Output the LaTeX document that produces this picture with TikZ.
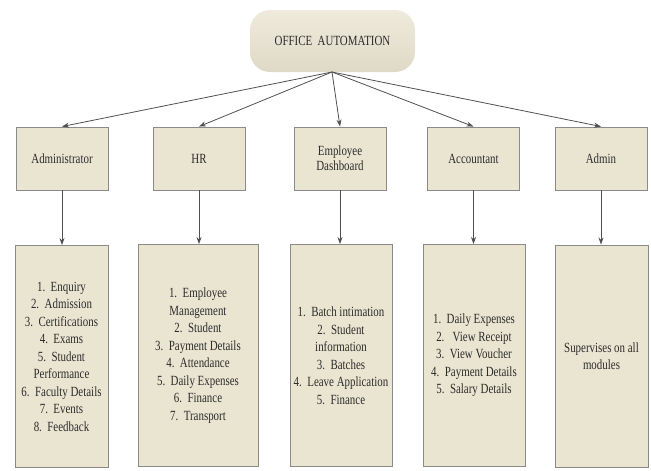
\documentclass[tikz,border=0pt]{standalone}
\usepackage{fontspec}
\setmainfont{Liberation Serif}[FakeStretch=0.78]
\usetikzlibrary{arrows.meta}
\definecolor{boxfill}{HTML}{EAE5D1}
\definecolor{boxfilltop}{HTML}{EFEBDC}
\definecolor{boxline}{HTML}{8A8A8A}
\definecolor{txt}{HTML}{2C2C2C}
\definecolor{arr}{HTML}{505050}
\tikzset{
  rootbox/.style={draw=none, rounded corners=20pt, top color=boxfilltop, bottom color=boxfill!95!black,
    minimum width=165pt, minimum height=62pt, inner sep=0pt, font=\fontsize{14}{16}\selectfont, text=txt},
  rolebox/.style={draw=boxline, line width=0.9pt, fill=boxfill, minimum width=92pt, minimum height=63pt,
    inner sep=0pt, align=center, font=\fontsize{14}{15}\selectfont, text=txt},
  listbox/.style={draw=boxline, line width=0.9pt, fill=boxfill, minimum height=222pt,
    inner sep=0pt, align=center, font=\fontsize{14}{17.5}\selectfont, text=txt},
  link/.style={draw=arr, line width=0.8pt, -{Stealth[length=7pt,width=5pt]}}
}
\begin{document}
\begin{tikzpicture}[x=1pt,y=-1pt]
\useasboundingbox (0,0) rectangle (651,471);
\node[rootbox] (root) at (332.5,41) {OFFICE\ \ AUTOMATION};
\coordinate (hub) at (332,72);

\node[rolebox] (adm) at (62,158.5) {Administrator};
\node[rolebox] (hr) at (199,158.5) {HR};
\node[rolebox] (emp) at (340,158.5) {Employee\\Dashboard};
\node[rolebox] (acc) at (473.5,158.5) {Accountant};
\node[rolebox] (admin) at (601,158.5) {Admin};

\node[listbox, minimum width=93pt] (ladm) at (61.5,356.5) {1.\ \ Enquiry\\2.\ \ Admission\\3.\ \ Certifications\\4.\ \ Exams\\5.\ \ Student\\Performance\\6.\ \ Faculty Details\\7.\ \ Events\\8.\ \ Feedback};
\node[listbox, minimum width=120pt] (lhr) at (198,355.5) {1.\ \ Employee\\Management\\2.\ \ Student\\3.\ \ Payment Details\\4.\ \ Attendance\\5.\ \ Daily Expenses\\6.\ \ Finance\\7.\ \ Transport};
\node[listbox, minimum width=102pt] (lemp) at (341,355.5) {1.\ \ Batch intimation\\2.\ \ Student\\information\\3.\ \ Batches\\4.\ \ Leave Application\\5.\ \ Finance};
\node[listbox, minimum width=102pt] (lacc) at (474,355.5) {1.\ \ Daily Expenses\\2.\ \ \ View Receipt\\3.\ \ View Voucher\\4.\ \ Payment Details\\5.\ \ Salary Details};
\node[listbox, minimum width=93pt] (ladmin) at (601.5,356) {Supervises on all\\modules};

\foreach \t in {adm,hr,emp,acc,admin}{
  \draw[link] (hub) -- (\t.north);
}
\draw[link] (adm.south) -- (ladm.north -| adm.south);
\draw[link] (hr.south) -- (lhr.north -| hr.south);
\draw[link] (emp.south) -- (lemp.north -| emp.south);
\draw[link] (acc.south) -- (lacc.north -| acc.south);
\draw[link] (admin.south) -- (ladmin.north -| admin.south);
\end{tikzpicture}
\end{document}
